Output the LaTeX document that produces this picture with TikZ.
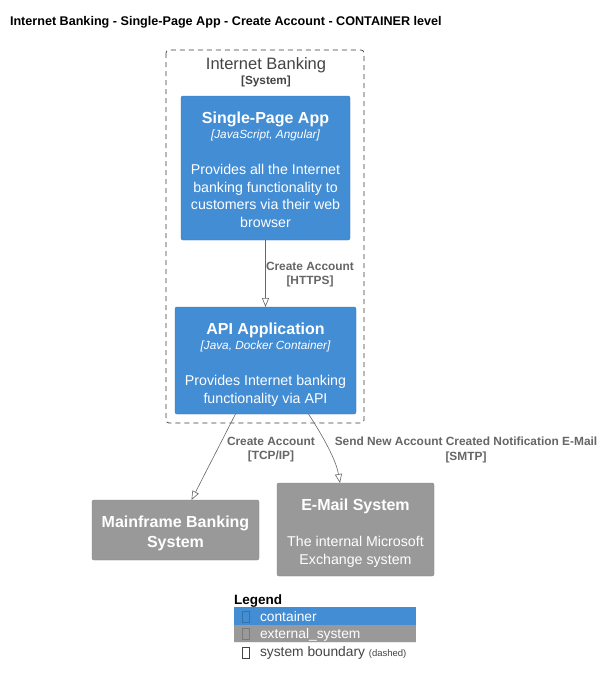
\documentclass[tikz,border=0pt]{standalone}
\usepackage{fontspec}
\setmainfont{Liberation Sans}
\usetikzlibrary{arrows.meta}
\definecolor{contblue}{HTML}{438DD5}
\definecolor{extgray}{HTML}{999999}
\definecolor{edgegray}{HTML}{666666}
\definecolor{bndtext}{HTML}{444444}
\tikzset{
  every node/.style={inner sep=0pt, outer sep=0pt},
  box/.style={rounded corners=2pt, minimum width=#1, anchor=north west},
  container/.style={box=#1, fill=contblue, draw=contblue!85!black, line width=0.4pt},
  extsys/.style={box=#1, fill=extgray, draw=extgray!85!black, line width=0.4pt},
  boxtitle/.style={text=white, font=\fontsize{16}{18}\selectfont\bfseries},
  boxtech/.style={text=white, font=\fontsize{11.8}{13}\selectfont\itshape},
  boxdesc/.style={text=white, font=\fontsize{14.2}{17.6}\selectfont, align=center},
  rellabel/.style={text=edgegray, font=\fontsize{11.9}{14.5}\selectfont\bfseries, align=center},
  rel/.style={draw=edgegray, line width=0.6pt, -{Triangle[open, length=9pt, width=7pt]}},
  legtext/.style={text=white, font=\fontsize{13.8}{16}\selectfont, anchor=base west},
  glyphbox/.style={minimum width=7pt, minimum height=11pt, line width=0.5pt, anchor=south west}
}
\begin{document}
\begin{tikzpicture}[x=1pt, y=-1pt]
\useasboundingbox[fill=white] (0,0) rectangle (602,686);

% title
\node[anchor=base west, font=\fontsize{12.6}{14}\selectfont\bfseries] (title) at (10,25)
  {Internet Banking - Single-Page App - Create Account - CONTAINER level};

% system boundary
\draw[dash pattern=on 5pt off 4pt, line width=0.7pt, draw=bndtext!90!black, rounded corners=3pt]
  (166,50) rectangle (364,423);
\node[anchor=base, text=bndtext, font=\fontsize{16.5}{18}\selectfont] (bndname) at (266,69) {Internet Banking};
\node[anchor=base, text=bndtext, font=\fontsize{11.8}{13}\selectfont\bfseries] (bndtype) at (266,84) {[System]};

% containers
\node[container=169pt, minimum height=144pt] (spa) at (181,96) {};
\node[anchor=base, boxtitle] at (265.5,123) {Single-Page App};
\node[anchor=base, boxtech] at (265.5,138) {[JavaScript, Angular]};
\node[anchor=north, boxdesc] at (265.5,164.5) {Provides all the Internet\\banking functionality to\\customers via their web\\browser};

\node[container=181pt, minimum height=107pt] (api) at (175,307) {};
\node[anchor=base, boxtitle] at (265.5,334) {API Application};
\node[anchor=base, boxtech] at (265.5,349) {[Java, Docker Container]};
\node[anchor=north, boxdesc] at (265.5,375.5) {Provides Internet banking\\functionality via API};

% external systems
\node[extsys=167pt, minimum height=60pt] (mf) at (92,500) {};
\node[anchor=north, boxtitle, align=center, font=\fontsize{16}{20}\selectfont\bfseries] at (175.5,515.5) {Mainframe Banking\\System};

\node[extsys=157pt, minimum height=93pt] (mail) at (277,483) {};
\node[anchor=base, boxtitle] at (355.5,510) {E-Mail System};
\node[anchor=north, boxdesc] at (355.5,536.5) {The internal Microsoft\\Exchange system};

% relationships
\draw[rel] (spa.south) -- (api.north);
\node[rellabel, anchor=north] at (310,262) {Create Account\\{}[HTTPS]};

\draw[rel] ([xshift=-30pt]api.south) -- ([xshift=16pt]mf.north);
\node[rellabel, anchor=north] at (271,437) {Create Account\\{}[TCP/IP]};

\draw[rel] ([xshift=43pt]api.south) .. controls (324,438) and (336,460) .. ([xshift=-15.5pt]mail.north);
\node[rellabel, anchor=north] at (466,437) {Send New Account Created Notification E-Mail\\{}[SMTP]};

% legend
\node[anchor=base west, font=\fontsize{13.5}{15}\selectfont\bfseries] (leg) at (234,604) {Legend};
\fill[contblue] (234,607) rectangle (416,625);
\fill[extgray] (234,625) rectangle (416,642);
\draw[white!85!gray, line width=0.6pt] (234,642.5) -- (416,642.5);
\node[glyphbox, draw=contblue!80!black] (g1) at (242,622) {};
\node[glyphbox, draw=extgray!80!black] (g2) at (242,639) {};
\node[glyphbox, draw=bndtext] (g3) at (242,658) {};
\node[legtext] at (260,621) {container};
\node[legtext] at (260,638) {external\_system};
\node[legtext, text=bndtext] at (260,656.5) {system boundary {\fontsize{9.5}{10}\selectfont(dashed)}};
\end{tikzpicture}
\end{document}
